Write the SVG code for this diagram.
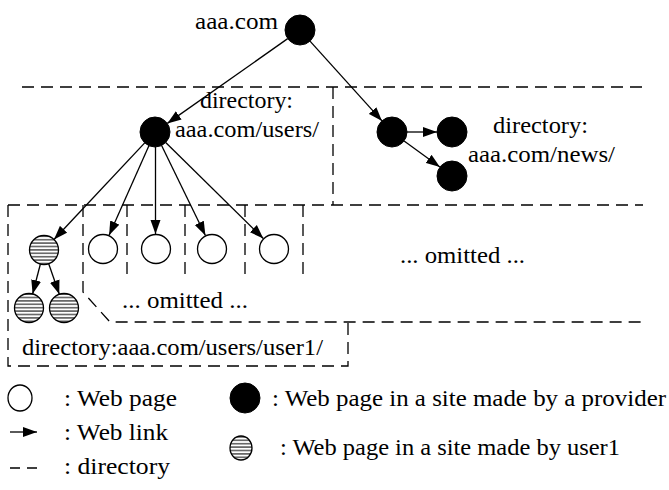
<svg xmlns="http://www.w3.org/2000/svg" width="669" height="490" viewBox="0 0 669 490">
<style>
text{font-family:"Liberation Serif","Times New Roman",serif;font-size:24px;fill:#000}
.dash{fill:none;stroke:#000;stroke-width:1.3;stroke-dasharray:12,7}
.edge{fill:none;stroke:#000;stroke-width:1.3;marker-end:url(#arr)}
.prov{fill:#000;stroke:#000;stroke-width:1}
.page{fill:#fff;stroke:#000;stroke-width:1.3}
.user{fill:url(#stripes);stroke:#000;stroke-width:1.3}
</style>
<defs>
<marker id="arr" markerUnits="userSpaceOnUse" markerWidth="15" markerHeight="11" refX="14" refY="5.5" orient="auto">
<path d="M0,0.5 L14,5.5 L0,10.5 z" fill="#000"/>
</marker>
<pattern id="stripes" patternUnits="userSpaceOnUse" width="8" height="3.4">
<rect width="8" height="3.4" fill="#fff"/>
<line x1="0" y1="1.7" x2="8" y2="1.7" stroke="#000" stroke-width="1"/>
</pattern>
</defs>
<rect width="669" height="490" fill="#fff"/>

<g id="directories">
<path class="dash" d="M22,87 H643"/>
<path class="dash" d="M333,87 V205"/>
<path class="dash" d="M8,205 H643"/>
<path class="dash" d="M8,205 V366 H348 V323"/>
<path class="dash" d="M83,205 V292 L110,322 H643"/>
<path class="dash" d="M127,205 V275"/>
<path class="dash" d="M185,205 V275"/>
<path class="dash" d="M245,205 V275"/>
<path class="dash" d="M303,205 V275"/>
</g>

<g id="connectors">
<path class="edge" d="M287.7,38.6 L167.3,123.4"/>
<path class="edge" d="M310,41.1 L382,120.9"/>
<path class="edge" d="M407,132 L437,132"/>
<path class="edge" d="M404.1,140.9 L439.9,167.1"/>
<path class="edge" d="M144.7,142.9 L54,239.5"/>
<path class="edge" d="M148.9,145.7 L109.1,235.3"/>
<path class="edge" d="M155.5,147 L155.5,234"/>
<path class="edge" d="M161.6,145.5 L205.4,235.5"/>
<path class="edge" d="M165.7,142.5 L263.3,238.5"/>
<path class="edge" d="M40.4,264 L32.6,294"/>
<path class="edge" d="M48.7,263.7 L59.3,294.3"/>
</g>

<g id="node-aaa"><circle class="prov" cx="300" cy="30" r="15"/><text x="195" y="29" textLength="83" lengthAdjust="spacingAndGlyphs">aaa.com</text></g>
<g id="node-users"><circle class="prov" cx="155" cy="132" r="15"/>
<text x="200" y="108" textLength="93" lengthAdjust="spacingAndGlyphs">directory:</text>
<text x="175" y="137" textLength="144" lengthAdjust="spacingAndGlyphs">aaa.com/users/</text></g>
<g id="node-news"><circle class="prov" cx="392" cy="132" r="15"/>
<text x="493" y="133" textLength="95" lengthAdjust="spacingAndGlyphs">directory:</text>
<text x="468" y="162" textLength="147" lengthAdjust="spacingAndGlyphs">aaa.com/news/</text></g>
<g id="node-news-b"><circle class="prov" cx="452" cy="132" r="15"/></g>
<g id="node-news-c"><circle class="prov" cx="452" cy="176" r="15"/></g>
<g id="node-user1"><circle class="user" cx="44" cy="250" r="14.5"/></g>
<g id="node-user1-a"><circle class="user" cx="29" cy="308" r="14.5"/></g>
<g id="node-user1-b"><circle class="user" cx="64" cy="308" r="14.5"/></g>
<g id="node-page1"><circle class="page" cx="103" cy="249" r="14.5"/></g>
<g id="node-page2"><circle class="page" cx="156" cy="249" r="14.5"/></g>
<g id="node-page3"><circle class="page" cx="212" cy="249" r="14.5"/></g>
<g id="node-page4"><circle class="page" cx="274" cy="249" r="14.5"/></g>

<g id="labels">
<text x="122" y="308" textLength="126" lengthAdjust="spacingAndGlyphs">... omitted ...</text>
<text x="400" y="263" textLength="125" lengthAdjust="spacingAndGlyphs">... omitted ...</text>
<text x="22" y="355" textLength="301" lengthAdjust="spacingAndGlyphs">directory:aaa.com/users/user1/</text>
</g>

<g id="legend">
<ellipse class="page" cx="20" cy="398" rx="12" ry="13"/>
<text x="64" y="406" textLength="113" lengthAdjust="spacingAndGlyphs">: Web page</text>
<path class="edge" d="M10,432 H37"/>
<text x="64" y="440" textLength="104" lengthAdjust="spacingAndGlyphs">: Web link</text>
<path class="dash" d="M10,468 H37" style="stroke-dasharray:10,7"/>
<text x="64" y="474" textLength="106" lengthAdjust="spacingAndGlyphs">: directory</text>
<ellipse class="prov" cx="245" cy="398" rx="15" ry="15"/>
<text x="272" y="406" textLength="394" lengthAdjust="spacingAndGlyphs">: Web page in a site made by a provider</text>
<ellipse class="user" cx="241" cy="448" rx="11" ry="12"/>
<text x="280" y="455" textLength="340" lengthAdjust="spacingAndGlyphs">: Web page in a site made by user1</text>
</g>
</svg>
